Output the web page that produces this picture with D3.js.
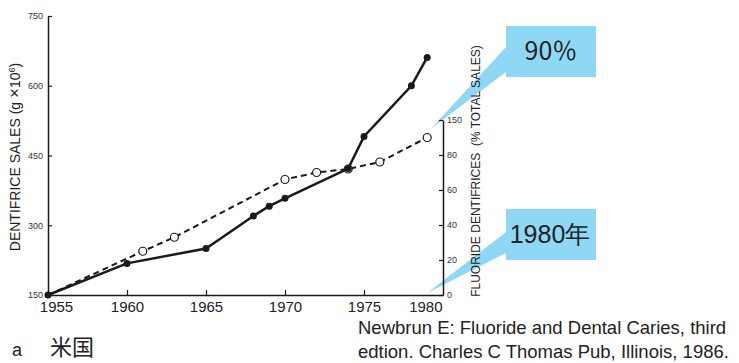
<!DOCTYPE html>
<html>
<head>
<meta charset="utf-8">
<script src="https://cdn.jsdelivr.net/npm/d3@7"></script>
<style>
  body { margin: 0; background: #fff; }
  svg { display: block; font-family: "Liberation Sans", Arial, sans-serif; }
</style>
</head>
<body>
<div id="chart"></div>
<script>
// dentifrice sales (left axis, g x 10^6)
const salesYears = [1955, 1960, 1965, 1968, 1969, 1970, 1974, 1975, 1978, 1979];
const salesValues = [150, 218, 250, 320, 341, 358, 422, 491, 600, 661];

// fluoride dentifrices (right axis, % of total sales)
const fluorideYears = [1955, 1961, 1963, 1970, 1972, 1974, 1976, 1979];
const fluorideValues = [0, 25, 33, 66, 70, 72, 76, 90];

const xTicks = [1955, 1960, 1965, 1970, 1975, 1980];
const leftTicks = [150, 300, 450, 600, 750];
const rightTicks = [0, 20, 40, 60, 80, 100];
const rightTickLabels = ["0", "20", "40", "60", "80", "150"];

let width = 739, height = 363;

let svg = d3.select("#chart")
    .append("svg")
    .attr("width", width)
    .attr("height", height);

let x = d3.scaleLinear().domain([1955, 1980]).range([48, 443]);
let yL = d3.scaleLinear().domain([150, 750]).range([295, 16]);
let yR = d3.scaleLinear().domain([0, 100]).range([295, 120]);

// callout wedges (behind everything)
const blue = "#8fd8f5";
let tip1 = [x(1979) + 4, yR(90) - 9];
let tip2 = [x(1979), yR(0) - 2];
svg.append("polygon")
    .attr("points", [[506, 47], [506, 72], tip1].join(" "))
    .attr("fill", blue);
svg.append("polygon")
    .attr("points", [[506, 232], [506, 253], tip2].join(" "))
    .attr("fill", blue);

// left axis
let gl = svg.append("g")
    .attr("transform", "translate(" + x(1955) + ",0)")
    .call(d3.axisLeft(yL).tickValues(leftTicks).tickSizeInner(-4).tickSizeOuter(0).tickPadding(5));
gl.selectAll("text").attr("font-size", 9).attr("fill", "#333").attr("font-family", "Liberation Sans, Arial");

// bottom axis
let gb = svg.append("g")
    .attr("transform", "translate(0," + yL(150) + ")")
    .call(d3.axisBottom(x).tickValues(xTicks).tickFormat(d3.format("d")).tickSizeInner(-5).tickSizeOuter(0).tickPadding(6));
gb.selectAll("text").attr("font-size", 15).attr("fill", "#222").attr("font-family", "Liberation Sans, Arial");
gb.selectAll(".tick").filter(d => d === 1955).select("text").attr("dx", 8);
gb.selectAll(".tick").filter(d => d === 1980).select("text").attr("text-anchor", "end").attr("x", -1);
gb.selectAll(".tick").filter(d => d === 1955 || d === 1980).select("line").remove();

// right axis
let gr = svg.append("g")
    .attr("transform", "translate(" + x(1980) + ",0)")
    .call(d3.axisRight(yR).tickValues(rightTicks).tickFormat((d, i) => rightTickLabels[i])
        .tickSizeInner(-4).tickSizeOuter(0).tickPadding(4));
gr.selectAll("text").attr("font-size", 9).attr("fill", "#333").attr("font-family", "Liberation Sans, Arial");

svg.selectAll(".domain").attr("stroke", "#1a1a1a").attr("stroke-width", 1.5);
svg.selectAll(".tick line").attr("stroke", "#1a1a1a").attr("stroke-width", 1.2);

// dashed fluoride line
let fluoride = fluorideYears.map((d, i) => ({ year: d, v: fluorideValues[i] }));
svg.append("path")
    .datum(fluoride)
    .attr("fill", "none")
    .attr("stroke", "#1a1a1a")
    .attr("stroke-width", 2)
    .attr("stroke-dasharray", "6,4")
    .attr("d", d3.line()
        .x(function (d) { return x(d.year) })
        .y(function (d) { return yR(d.v) }));

svg.append("g")
    .selectAll("circle")
    .data(fluoride.slice(1))
    .enter()
    .append("circle")
    .attr("cx", function (d) { return x(d.year) })
    .attr("cy", function (d) { return yR(d.v) })
    .attr("r", 4)
    .attr("fill", "#fff")
    .attr("stroke", "#1a1a1a")
    .attr("stroke-width", 1.2);

// solid sales line
let sales = salesYears.map((d, i) => ({ year: d, v: salesValues[i] }));
svg.append("path")
    .datum(sales)
    .attr("fill", "none")
    .attr("stroke", "#1a1a1a")
    .attr("stroke-width", 2.5)
    .attr("d", d3.line()
        .x(function (d) { return x(d.year) })
        .y(function (d) { return yL(d.v) }));

svg.append("g")
    .selectAll("circle")
    .data(sales)
    .enter()
    .append("circle")
    .attr("cx", function (d) { return x(d.year) })
    .attr("cy", function (d) { return yL(d.v) })
    .attr("r", 3.5)
    .attr("fill", "#1a1a1a");

// axis titles
let lt = svg.append("text")
    .attr("transform", "translate(20,157) rotate(-90)")
    .attr("text-anchor", "middle")
    .attr("font-size", 14)
    .attr("fill", "#222");
lt.append("tspan").text("DENTIFRICE SALES (g ");
lt.append("tspan").attr("font-size", 17).text("\u00d7");
lt.append("tspan").text("10");
lt.append("tspan").attr("font-size", 9).attr("dy", -5).text("6");
lt.append("tspan").attr("dy", 5).text(")");

svg.append("text")
    .attr("transform", "translate(480,171) rotate(-90)")
    .attr("text-anchor", "middle")
    .attr("font-size", 12)
    .attr("fill", "#222")
    .style("white-space", "pre")
    .text("FLUORIDE DENTIFRICES  (% TOTAL SALES)");

// callout boxes
svg.append("rect").attr("x", 506).attr("y", 26).attr("width", 90).attr("height", 51).attr("fill", blue);
svg.append("text").attr("x", 551).attr("y", 60).attr("text-anchor", "middle")
    .attr("font-size", 25).attr("fill", "#222").attr("font-family", "Noto Sans CJK JP").text("90％");
svg.append("rect").attr("x", 506).attr("y", 209).attr("width", 90).attr("height", 51).attr("fill", blue);
svg.append("text").attr("x", 550).attr("y", 243).attr("text-anchor", "middle")
    .attr("font-size", 25).attr("fill", "#222").text("1980年");

// caption and source
svg.append("text").attr("x", 12).attr("y", 356).attr("font-size", 18).attr("fill", "#222").text("a");
svg.append("text").attr("x", 50).attr("y", 355).attr("font-size", 22).attr("fill", "#222")
    .attr("font-family", "Noto Sans CJK JP").text("米国");
svg.append("text").attr("x", 358).attr("y", 334).attr("font-size", 18.5).attr("fill", "#222")
    .text("Newbrun E: Fluoride and Dental Caries, third");
svg.append("text").attr("x", 358).attr("y", 358).attr("font-size", 18.5).attr("fill", "#222")
    .text("edtion. Charles C Thomas Pub, Illinois, 1986.");
</script>
</body>
</html>
